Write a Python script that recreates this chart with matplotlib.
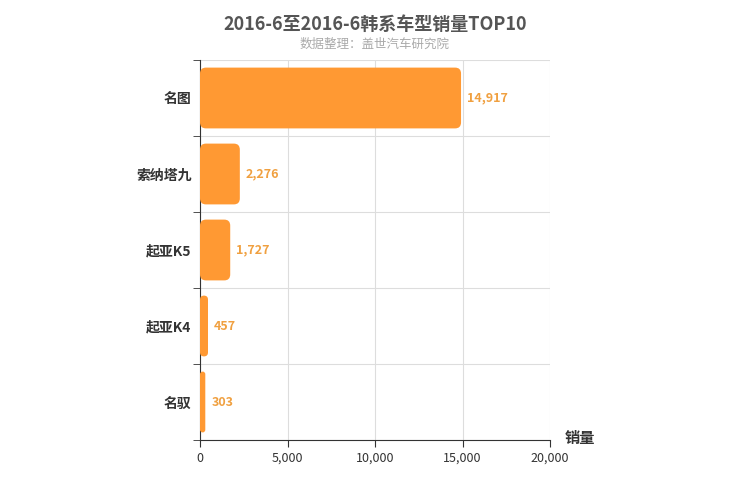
import matplotlib.pyplot as plt
from matplotlib.patches import FancyBboxPatch

plt.rcParams["font.family"] = "Noto Sans CJK SC"

models = ["名图", "索纳塔九", "起亚K5", "起亚K4", "名驭"]
sales = [14917, 2276, 1727, 457, 303]
x_ticks = [0, 5000, 10000, 15000, 20000]

fig = plt.figure(figsize=(7.5, 5), dpi=100)
ax = fig.add_axes([200 / 750, 60 / 500, 350 / 750, 380 / 500])

n = len(models)
ax.set_xlim(0, 20000)
ax.set_ylim(-0.5, n - 0.5)
ax.invert_yaxis()

x_per_px = 20000 / 350
y_per_px = n / 380
color = "#FF9933"
for i, (name, v) in enumerate(zip(models, sales)):
    h = 0.8
    box = FancyBboxPatch((0, i - h / 2), v, h,
                         boxstyle=f"round,pad=0,rounding_size={min(6 * x_per_px, v / 2)}",
                         mutation_aspect=y_per_px / x_per_px,
                         facecolor=color, edgecolor="none", zorder=3)
    ax.add_patch(box)
    ax.text(v + 350, i, f"{v:,}", va="center", ha="left", fontsize=9,
            color="#F0A040", fontweight="bold")

ax.set_yticks(range(n))
ax.set_yticklabels(models, fontsize=10, fontweight="bold", color="#333")
ax.set_yticks([i + 0.5 for i in range(-1, n)], minor=True)
ax.set_xticks(x_ticks)
ax.set_xticklabels([f"{t:,}" for t in x_ticks], fontsize=9, color="#333")
ax.tick_params(axis="y", which="major", length=0, pad=6)
ax.tick_params(axis="y", which="minor", length=5, color="#333")
ax.tick_params(axis="x", length=5, color="#333")
ax.grid(axis="x", color="#ddd", zorder=0)
ax.grid(axis="y", which="minor", color="#ddd", zorder=0)
for s in ["top", "right"]:
    ax.spines[s].set_visible(False)
for s in ["left", "bottom"]:
    ax.spines[s].set_color("#333")

fig.text(0.5, 0.97, "2016-6至2016-6韩系车型销量TOP10", ha="center", va="top",
         fontsize=13, fontweight="bold", color="#555")
fig.text(0.5, 0.925, "数据整理：盖世汽车研究院", ha="center", va="top",
         fontsize=9, color="#aaa")
fig.text(565 / 750, 1 - 438 / 500, "销量", ha="left", va="center",
         fontsize=11, fontweight="bold", color="#333")

fig.savefig("out.png", dpi=100)
